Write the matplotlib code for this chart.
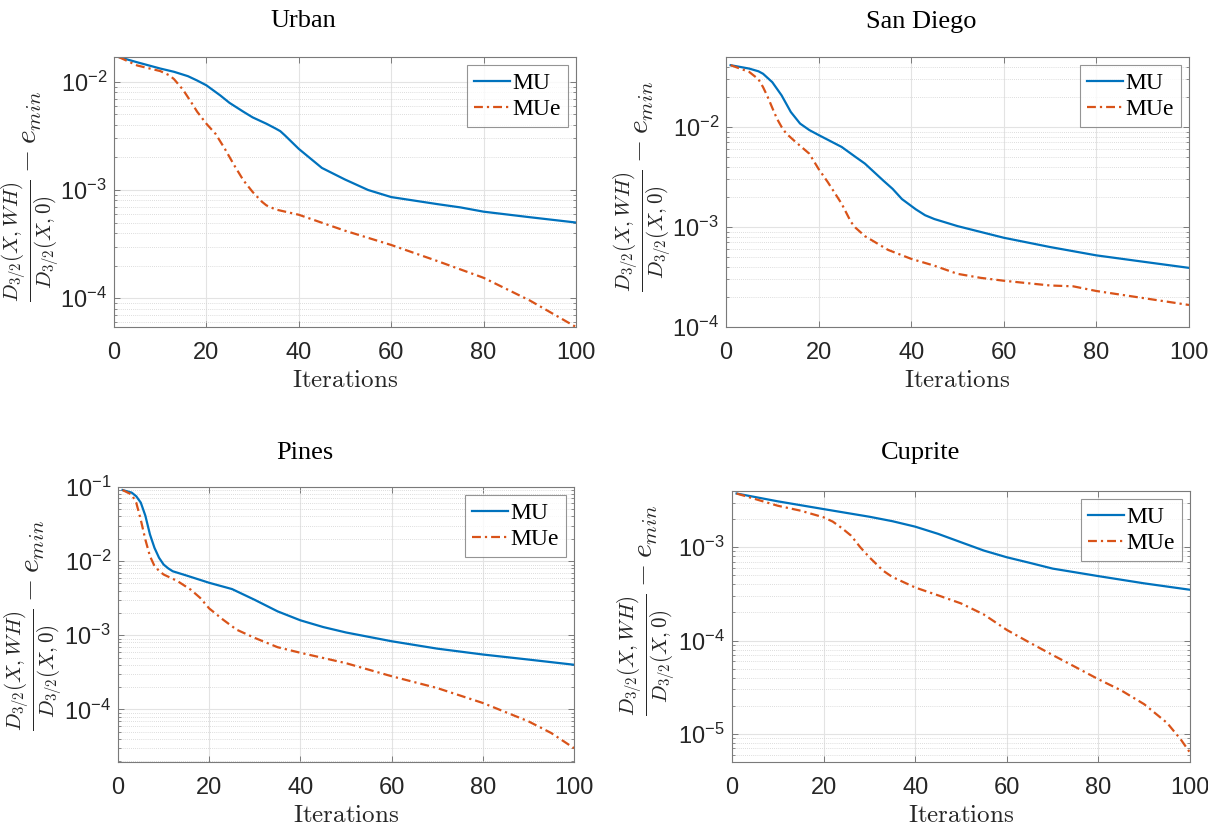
import numpy as np
import matplotlib
matplotlib.use("Agg")
import matplotlib.pyplot as plt
from matplotlib.ticker import LogLocator, NullFormatter

plt.rcParams['font.family'] = ['Liberation Sans', 'DejaVu Sans']
plt.rcParams['mathtext.fontset'] = 'cm'

# relative error curves, read per dataset (iteration, value)
urban_mu_it = [1, 5, 10, 13, 16, 18, 20, 23, 25, 28, 30, 33, 35, 36, 37, 40, 45, 50, 55, 60,
               70, 75, 80, 90, 100]
urban_mu = [0.0170, 0.0152, 0.0133, 0.0124, 0.0113, 0.0103, 0.0093, 0.0075, 0.0064, 0.0053,
            0.0047, 0.0041, 0.0037, 0.0035, 0.0032, 0.0024, 0.0016, 0.00125, 0.00100,
            0.00086, 0.00074, 0.00069, 0.00063, 0.00056, 0.00050]
urban_mue_it = [1, 5, 10, 12, 13, 15, 17, 18, 20, 22, 24, 26, 28, 30, 32, 33, 35, 40, 50, 60,
                70, 80, 90, 100]
urban_mue = [0.0170, 0.0142, 0.0126, 0.0115, 0.0106, 0.0084, 0.0062, 0.0053, 0.0041, 0.0033,
             0.0024, 0.0017, 0.00123, 0.00096, 0.00078, 0.00072, 0.00066, 0.00059, 0.00042,
             0.00031, 0.00022, 0.000154, 0.000095, 0.000054]

sd_mu_it = [1, 5, 7, 8, 10, 12, 14, 16, 18, 20, 25, 28, 30, 34, 36, 38, 41, 43, 45, 50, 60, 70,
            80, 90, 100]
sd_mu = [0.0414, 0.0383, 0.036, 0.034, 0.028, 0.0207, 0.0141, 0.0108, 0.0093, 0.0083, 0.0063,
         0.0050, 0.0043, 0.0029, 0.0024, 0.0019, 0.0015, 0.00131, 0.0012, 0.00102, 0.00078,
         0.00063, 0.00052, 0.00045, 0.00039]
sd_mue_it = [1, 5, 7, 8, 9, 10, 11, 12, 13, 15, 18, 20, 22, 25, 27, 28, 30, 35, 40, 45, 50, 55,
             60, 70, 75, 80, 90, 100]
sd_mue = [0.0414, 0.0355, 0.030, 0.025, 0.020, 0.0155, 0.0121, 0.0100, 0.0086, 0.0071, 0.0054,
          0.0038, 0.0028, 0.0017, 0.00112, 0.00098, 0.00081, 0.00059, 0.00048, 0.00041,
          0.00034, 0.00031, 0.00029, 0.00026, 0.000255, 0.000229, 0.000195, 0.000166]

pines_mu_it = [1, 3, 4, 5, 6, 7, 8, 9, 10, 11, 12, 15, 20, 25, 30, 35, 40, 45, 50, 60, 70, 80,
               90, 100]
pines_mu = [0.091, 0.084, 0.075, 0.0615, 0.041, 0.023, 0.0151, 0.0111, 0.0090, 0.0080, 0.0073,
            0.0064, 0.0051, 0.0042, 0.0030, 0.0021, 0.00159, 0.00129, 0.00109, 0.00083,
            0.00066, 0.00055, 0.00047, 0.00040]
pines_mue_it = [1, 3, 4, 5, 6, 7, 8, 9, 10, 13, 16, 18, 20, 23, 26, 30, 35, 40, 50, 60, 70,
                80, 90, 95, 100]
pines_mue = [0.091, 0.079, 0.0615, 0.036, 0.0195, 0.0117, 0.0086, 0.0074, 0.0066, 0.0054,
             0.0041, 0.0032, 0.0023, 0.00163, 0.00119, 0.00092, 0.00069, 0.00058, 0.00042,
             0.00028, 0.000194, 0.000122, 0.000069, 0.000048, 0.000030]

cup_mu_it = [1, 10, 20, 30, 35, 40, 45, 50, 55, 60, 65, 70, 80, 90, 100]
cup_mu = [0.00376, 0.0031, 0.00256, 0.00212, 0.0019, 0.00166, 0.00139, 0.00113, 0.00092,
          0.00078, 0.00068, 0.00059, 0.00049, 0.00041, 0.00035]
cup_mue_it = [1, 10, 15, 20, 22, 24, 26, 28, 30, 33, 35, 40, 45, 50, 55, 60, 65, 70, 75, 80,
              85, 90, 95, 98, 100]
cup_mue = [0.00376, 0.00278, 0.00246, 0.00209, 0.00188, 0.00160, 0.00133, 0.0010, 0.00078,
           0.00056, 0.00048, 0.00037, 0.000305, 0.000250, 0.000190, 0.000130, 0.000095,
           0.000070, 0.000052, 0.0000385, 0.0000292, 0.0000208, 0.0000131, 0.0000087,
           0.0000063]

titles = ['Urban', 'San Diego', 'Pines', 'Cuprite']
ylims = [(5.4e-5, 0.0170), (1e-4, 0.05), (1.95e-5, 0.1), (5.0e-6, 0.0040)]

W, H = 1208, 827
# axes boxes in pixels: left, top, right, bottom
boxes = [(114, 57, 576, 327), (726, 57, 1189, 327),
         (118, 487, 574, 762), (732, 491, 1190, 762)]
title_xy = [(303, 21), (921, 22), (305, 453), (921, 453)]
ylab_xy = [(31, 196), (643, 186), (34, 625), (647, 610)]

series = [(urban_mu_it, urban_mu, urban_mue_it, urban_mue),
          (sd_mu_it, sd_mu, sd_mue_it, sd_mue),
          (pines_mu_it, pines_mu, pines_mue_it, pines_mue),
          (cup_mu_it, cup_mu, cup_mue_it, cup_mue)]

ylab = r'$\frac{D_{3/2}(X,WH)}{D_{3/2}(X,0)} - e_{min}$'
frame = '#7a7a7a'

fig = plt.figure(figsize=(W / 100, H / 100), dpi=100)

for k in range(4):
    l, t, r, b = boxes[k]
    ax = fig.add_axes([l / W, 1 - b / H, (r - l) / W, (b - t) / H])
    x1, y1, x2, y2 = series[k]
    ax.plot(x1, y1, color='#0072BD', lw=1.6, label='MU')
    ax.plot(x2, y2, color='#D95319', lw=1.6, ls=(0, (4, 1.8, 1, 1.8)), label='MUe')
    ax.set_yscale('log')
    ax.set_xlim(0, 100)
    ax.set_ylim(*ylims[k])
    ax.set_xticks([0, 20, 40, 60, 80, 100])
    ax.yaxis.set_major_locator(LogLocator(base=10, numticks=10))
    ax.yaxis.set_minor_locator(LogLocator(base=10, subs=np.arange(2, 10), numticks=20))
    ax.yaxis.set_minor_formatter(NullFormatter())

    ax.grid(True, which='major', color='#e3e3e3', lw=0.8)
    ax.grid(True, which='minor', axis='y', color='#d2d2d2', lw=0.6, ls=(0, (1, 1.5)))
    ax.set_axisbelow(True)

    for s in ax.spines.values():
        s.set_color(frame)
        s.set_linewidth(0.8)
    ax.tick_params(which='both', direction='in', top=True, right=True,
                   color=frame, labelcolor='#262626', labelsize=17)
    ax.tick_params(which='major', length=4.5, width=0.7)
    ax.tick_params(which='minor', length=2.5, width=0.6)
    ax.tick_params(axis='x', pad=11)
    ax.tick_params(axis='y', pad=5)

    ax.set_xlabel(r'$\mathrm{Iterations}$', fontsize=18, color='#262626', labelpad=3)

    leg = ax.legend(loc='upper right', prop={'family': 'Liberation Serif', 'size': 17},
                    frameon=True, fancybox=False, borderaxespad=0.35,
                    handlelength=1.5, handletextpad=0.1, labelspacing=0.2,
                    borderpad=0.3)
    leg.get_frame().set_edgecolor(frame)
    leg.get_frame().set_linewidth(0.8)

    tx, ty = title_xy[k]
    fig.text(tx / W, 1 - ty / H, titles[k], ha='center', va='center',
             family='Liberation Serif', fontsize=19, color='black')
    lx, ly = ylab_xy[k]
    fig.text(lx / W, 1 - ly / H, ylab, rotation=90, ha='center', va='center',
             fontsize=21.5, color='#262626')

fig.savefig('out.png', dpi=100, facecolor='white')
